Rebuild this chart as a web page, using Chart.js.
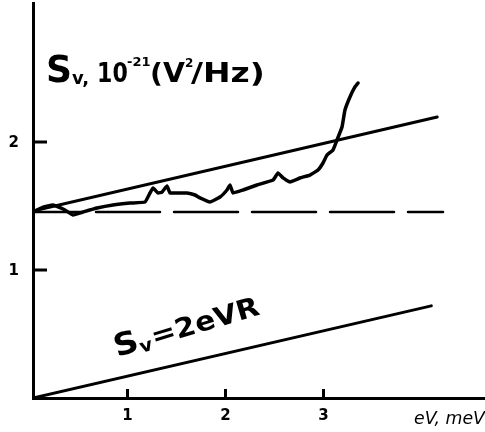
<!DOCTYPE html>
<html>
<head>
<meta charset="utf-8">
<script src="https://cdn.jsdelivr.net/npm/chart.js@4.4.1/dist/chart.umd.min.js"></script>
<style>
  html, body { margin: 0; padding: 0; background: #fff; }
  canvas { display: block; }
</style>
</head>
<body>
<canvas id="noiseChart" width="485" height="432"></canvas>
<script>
// measured voltage noise spectrum, eV in meV / Sv in 1e-21 V^2/Hz
const noiseV = [0.036, 0.138, 0.24, 0.342, 0.444, 0.546, 0.689, 0.852, 1.026, 1.179, 1.230, 1.260, 1.311, 1.352,
                1.403, 1.434, 1.505, 1.607, 1.689, 1.740, 1.842, 1.944, 2.015, 2.046, 2.077, 2.179, 2.321,
                2.485, 2.536, 2.587, 2.658, 2.760, 2.862, 2.944, 2.995, 3.036, 3.097, 3.138, 3.189, 3.219,
                3.270, 3.321, 3.352];
const noiseS = [1.453, 1.492, 1.508, 1.477, 1.430, 1.453, 1.484, 1.508, 1.523, 1.531, 1.602, 1.641, 1.602, 1.609,
                1.656, 1.602, 1.602, 1.602, 1.586, 1.563, 1.531, 1.570, 1.625, 1.664, 1.602, 1.625, 1.664,
                1.703, 1.758, 1.719, 1.688, 1.719, 1.742, 1.781, 1.836, 1.898, 1.938, 2.016, 2.117, 2.250,
                2.352, 2.430, 2.461];

// straight guides
const fitV   = [0.036, 4.16];
const fitS   = [1.46, 2.195];
const levelV = [0.036, 4.22];
const levelS = [1.453, 1.453];
const shotV  = [0.036, 4.10];
const shotS  = [0, 0.72];

const xTicks = [1, 2, 3];
const yTicks = [1, 2];

const pts = (xs, ys) => xs.map((x, i) => ({ x, y: ys[i] }));

// axis inward tick marks, y tick labels and free text
const decor = {
  id: 'decor',
  afterDraw(chart) {
    const { ctx, scales: { x, y }, chartArea } = chart;
    const F = '"DejaVu Sans", sans-serif';
    ctx.save();
    ctx.strokeStyle = '#000';
    ctx.fillStyle = '#000';
    ctx.lineWidth = 3;
    ctx.beginPath();
    yTicks.forEach(v => {
      const py = y.getPixelForValue(v);
      ctx.moveTo(chartArea.left, py);
      ctx.lineTo(chartArea.left + 14, py);
    });
    xTicks.forEach(v => {
      const px = x.getPixelForValue(v);
      ctx.moveTo(px, chartArea.bottom);
      ctx.lineTo(px, chartArea.bottom - 9);
    });
    ctx.stroke();

    ctx.font = 'bold 15px ' + F;
    ctx.textAlign = 'right';
    ctx.textBaseline = 'middle';
    yTicks.forEach(v => ctx.fillText(String(v), chartArea.left - 14, y.getPixelForValue(v) + 1));

    ctx.textAlign = 'left';
    ctx.textBaseline = 'alphabetic';
    const txt = (s, px, py, font, sx = 1) => {
      ctx.save();
      ctx.translate(px, py);
      ctx.scale(sx, 1);
      ctx.font = font;
      ctx.fillText(s, 0, 0);
      ctx.restore();
    };

    // y axis title
    txt('S', 46, 82, 'bold 38px ' + F, 0.95);
    txt('v,', 72, 84, 'bold 18px ' + F);
    txt('10', 97, 82, 'bold 26px ' + F, 0.85);
    txt('-21', 127, 66, 'bold 13px ' + F, 1.0);
    txt('(V', 150, 82, 'bold 27px ' + F, 1.05);
    txt('2', 185, 67, 'bold 12px ' + F);
    txt('/Hz)', 191, 82, 'bold 27px ' + F, 1.22);

    // x axis title
    txt('eV, meV', 414, 424, 'italic 17px ' + F, 1.02);

    // label along the shot-noise line
    ctx.save();
    ctx.translate(117, 357);
    ctx.rotate(-16.5 * Math.PI / 180);
    ctx.scale(1.1, 1);
    ctx.font = 'bold 31px ' + F;
    ctx.fillText('S', 0, 0);
    let off = ctx.measureText('S').width;
    ctx.font = 'bold 18px ' + F;
    ctx.fillText('v', off, 3);
    off += ctx.measureText('v').width + 1;
    ctx.font = 'bold 27px ' + F;
    ctx.fillText('=2eVR', off, 0);
    ctx.restore();

    ctx.restore();
  }
};

new Chart(document.getElementById('noiseChart'), {
  type: 'line',
  data: {
    datasets: [
      { data: pts(noiseV, noiseS), borderColor: '#000', borderWidth: 3.5, tension: 0.1 },
      { data: pts(fitV, fitS), borderColor: '#000', borderWidth: 3 },
      { data: pts(levelV, levelS), borderColor: '#000', borderWidth: 2.5,
        borderDash: [64, 14], borderDashOffset: 15 },
      { data: pts(shotV, shotS), borderColor: '#000', borderWidth: 3 }
    ]
  },
  options: {
    responsive: false,
    animation: false,
    devicePixelRatio: 1,
    layout: { padding: { top: 3, right: 0, left: 0, bottom: 0 } },
    elements: { point: { radius: 0 }, line: { borderCapStyle: 'round' } },
    plugins: { legend: { display: false }, tooltip: { enabled: false } },
    scales: {
      x: {
        type: 'linear',
        min: 0.0357,
        max: 4.648,
        afterBuildTicks: (s) => { s.ticks = xTicks.map(v => ({ value: v })); },
        afterFit: (s) => { s.height = 34; },
        grid: { display: false, drawTicks: false },
        border: { display: true, color: '#000', width: 3 },
        ticks: { color: '#000', padding: 9, font: { family: 'DejaVu Sans', size: 15, weight: 'bold' } }
      },
      y: {
        type: 'linear',
        min: 0,
        max: 3.086,
        afterBuildTicks: (s) => { s.ticks = yTicks.map(v => ({ value: v })); },
        afterFit: (s) => { s.width = 33; },
        grid: { display: false, drawTicks: false },
        border: { display: true, color: '#000', width: 3 },
        ticks: { display: false }
      }
    }
  },
  plugins: [decor]
});
</script>
</body>
</html>
